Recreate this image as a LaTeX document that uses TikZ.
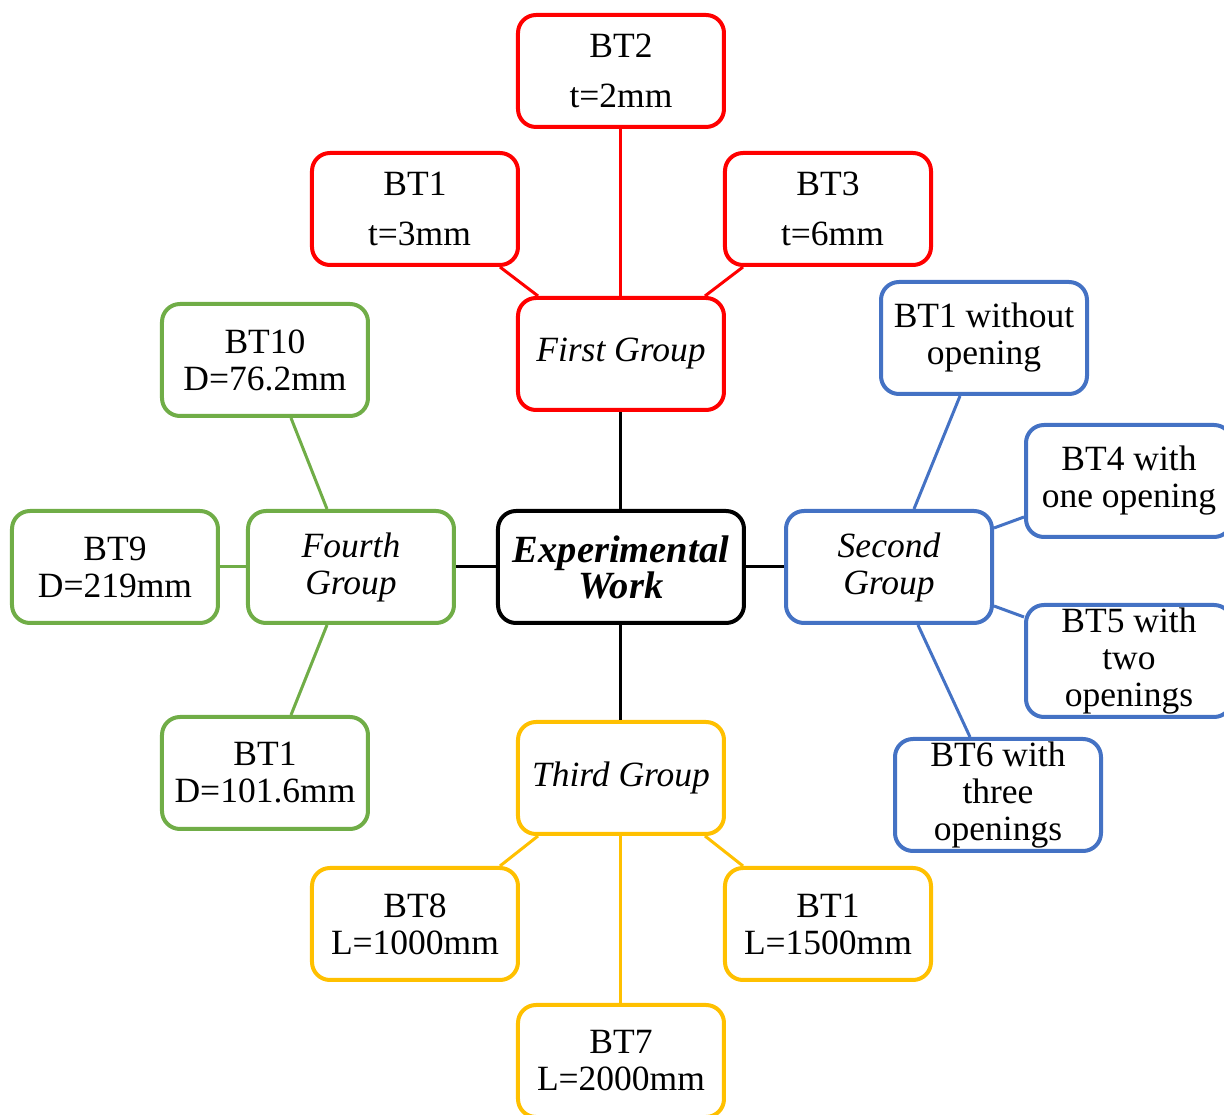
\documentclass[tikz,border=0pt]{standalone}
\usepackage{fontspec}
\setmainfont{Liberation Serif}
\usepackage{xcolor}
\usepackage{tikz}
\usetikzlibrary{positioning}
\definecolor{firstred}{RGB}{255, 0, 0}
\definecolor{secondblue}{RGB}{68, 114, 196}
\definecolor{thirdyellow}{RGB}{255, 192, 0}
\definecolor{fourthgreen}{RGB}{112, 173, 71}

\begin{document}
\begin{tikzpicture}[
    node distance=30pt and 30pt,
    block/.style={
        rectangle, draw=#1, line width=4pt, fill=white,
        minimum width=206pt, minimum height=112pt, inner sep=2pt,
        align=center, rounded corners=18pt,
        font=\fontsize{35.5}{37}\selectfont
    },
    groupblock/.style={block=#1, font=\fontsize{35.5}{37}\selectfont\itshape},
    workblock/.style={block=black, minimum width=246pt, font=\fontsize{38.5}{36}\selectfont\bfseries\itshape},
    link/.style={draw=#1, line width=3pt}
]
    \useasboundingbox (-621pt,567pt) rectangle (603pt,-548pt);
    \node[workblock] (work) at (0,0) {Experimental\\Work};

    % groups
    \node[groupblock=firstred, above=97pt of work] (first) {First Group};
    \node[groupblock=secondblue, right=38pt of work] (second) {Second\\Group};
    \node[groupblock=thirdyellow, below=95pt of work] (third) {Third Group};
    \node[groupblock=fourthgreen, left=40pt of work] (fourth) {Fourth\\Group};

    % first group
    \node[block=firstred, above=167pt of first] (bt2) {BT2\\[13pt]t=2mm};
    \node[block=firstred, above left=29pt and -4pt of first] (bt1t) {BT1\\[13pt]\ t=3mm};
    \node[block=firstred, above right=29pt and -3pt of first] (bt3) {BT3\\[13pt]\ t=6mm};

    % second group
    \node[block=secondblue, above=113pt of second, xshift=95pt] (bt1o) {BT1 without\\opening};
    \node[block=secondblue, right=30pt of second, yshift=86pt] (bt4) {BT4 with\\one opening};
    \node[block=secondblue, right=30pt of second, yshift=-94pt] (bt5) {BT5 with\\two\\openings};
    \node[block=secondblue, below=112pt of second, xshift=109pt] (bt6) {BT6 with\\three\\openings};

    % third group
    \node[block=thirdyellow, below left=30pt and -4pt of third] (bt8) {BT8\\L=1000mm};
    \node[block=thirdyellow, below right=30pt and -3pt of third] (bt1l) {BT1\\L=1500mm};
    \node[block=thirdyellow, below=167pt of third] (bt7) {BT7\\L=2000mm};

    % fourth group
    \node[block=fourthgreen, above=91pt of fourth, xshift=-86pt] (bt10) {BT10\\D=76.2mm};
    \node[block=fourthgreen, left=26pt of fourth] (bt9) {BT9\\D=219mm};
    \node[block=fourthgreen, below=90pt of fourth, xshift=-86pt] (bt1d) {BT1\\D=101.6mm};

    \draw[link=black] (work) -- (first);
    \draw[link=black] (work) -- (second);
    \draw[link=black] (work) -- (third);
    \draw[link=black] (work) -- (fourth);

    \draw[link=firstred] (first) -- (bt2);
    \draw[link=firstred] ([xshift=22pt]first.north west) -- ([xshift=-20pt]bt1t.south east);
    \draw[link=firstred] ([xshift=-21pt]first.north east) -- ([xshift=20pt]bt3.south west);

    \draw[link=secondblue] ([xshift=25pt]second.north) -- ([xshift=-24pt]bt1o.south);
    \draw[link=secondblue] ([yshift=39pt]second.east) -- ([yshift=-36pt]bt4.west);
    \draw[link=secondblue] ([yshift=-39pt]second.east) -- ([yshift=44pt]bt5.west);
    \draw[link=secondblue] ([xshift=29pt]second.south) -- ([xshift=-28pt]bt6.north);

    \draw[link=thirdyellow] (third) -- (bt7);
    \draw[link=thirdyellow] ([xshift=22pt]third.south west) -- ([xshift=-20pt]bt8.north east);
    \draw[link=thirdyellow] ([xshift=-21pt]third.south east) -- ([xshift=20pt]bt1l.north west);

    \draw[link=fourthgreen] ([xshift=-24pt]fourth.north) -- ([xshift=26pt]bt10.south);
    \draw[link=fourthgreen] (fourth) -- (bt9);
    \draw[link=fourthgreen] ([xshift=-24pt]fourth.south) -- ([xshift=26pt]bt1d.north);
\end{tikzpicture}
\end{document}
